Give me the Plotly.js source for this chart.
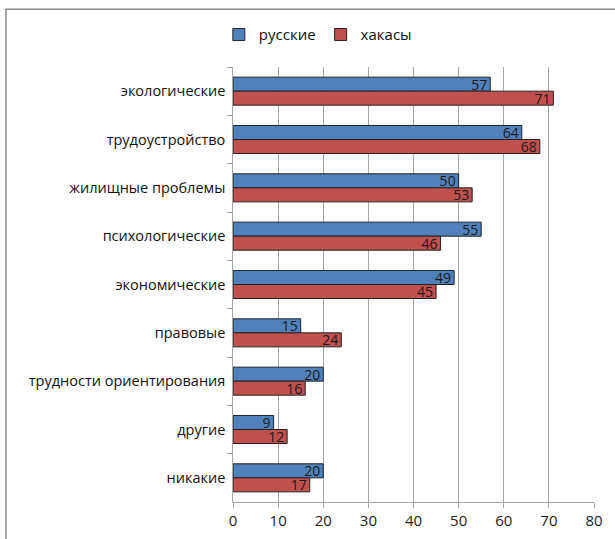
<!DOCTYPE html>
<html><head><meta charset="utf-8">
<script src="https://cdn.plot.ly/plotly-3.0.1.min.js"></script>
<style>body{margin:0;background:#fff}#c{width:615px;height:539px}</style>
</head><body><div id="c"></div>
<script>
var categories = ["экологические","трудоустройство","жилищные проблемы","психологические","экономические","правовые","трудности ориентирования","другие","никакие"];
var russians = [57,64,50,55,49,15,20,9,20];
var khakas = [71,68,53,46,45,24,16,12,17];
var xTicks = [0,10,20,30,40,50,60,70,80];

function tr(name, vals, color){
  return {type:'bar', orientation:'h', name:name, y:categories, x:vals,
    text:vals.map(String), textposition:'inside', insidetextanchor:'end', constraintext:'none', textangle:0,
    textfont:{family:'Open Sans, Liberation Sans, sans-serif', size:14, color:'#1a1a1a'},
    marker:{color:color, line:{color:'#222', width:1}}, hoverinfo:'none', cliponaxis:false};
}
var data = [tr('русские', russians, '#4f81bd'), tr('хакасы', khakas, '#c0504d')];
var layout = {
  width:615, height:539, margin:{l:233, r:21, t:67, b:37},
  paper_bgcolor:'#fff', plot_bgcolor:'#fff',
  barmode:'group', bargap:0.42, bargroupgap:0,
  font:{family:'Open Sans, Liberation Sans, sans-serif', size:14, color:'#111'},
  xaxis:{range:[0,80], tickvals:xTicks, showgrid:true, gridcolor:'#a6a6a6', gridwidth:1,
    showline:true, linecolor:'#a6a6a6', ticks:'outside', ticklen:5, tickcolor:'#a6a6a6',
    zeroline:false, tickfont:{size:15, color:'#222'}, fixedrange:true},
  yaxis:{autorange:'reversed', showline:true, linecolor:'#a6a6a6', ticks:'outside', ticklen:5,
    tickcolor:'#a6a6a6', tickson:'boundaries', showgrid:false, ticksuffix:' ', tickfont:{size:14.5, color:'#111'}},
  showlegend:true,
  legend:{orientation:'h', x:0.235, xanchor:'center', y:1.074, yanchor:'middle',
    font:{size:15, color:'#111'}, itemwidth:30, traceorder:'normal'},
  shapes:[{type:'rect', xref:'paper', yref:'paper', x0:-0.629, x1:1.2, y0:-0.2, y1:1.133,
    line:{color:'#8c8c8c', width:1.5}, fillcolor:'rgba(0,0,0,0)', layer:'below'}]
};
Plotly.newPlot('c', data, layout, {displayModeBar:false, staticPlot:true});
</script></body></html>
